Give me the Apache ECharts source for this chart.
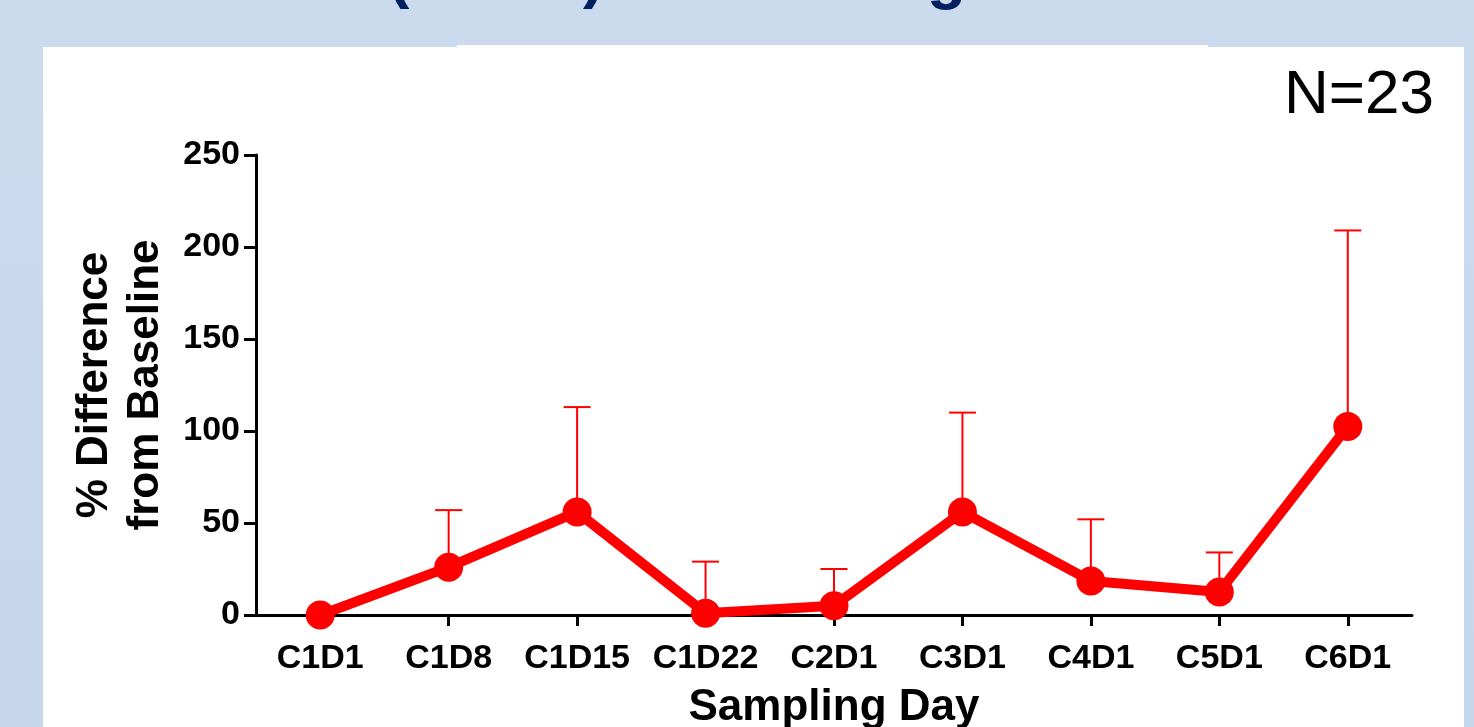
<!DOCTYPE html>
<html>
<head>
<meta charset="utf-8">
<script src="https://cdn.jsdelivr.net/npm/echarts@6/dist/echarts.min.js"></script>
<style>
html,body{margin:0;padding:0;width:1474px;height:727px;overflow:hidden;}
#bg{position:absolute;left:0;top:0;width:1474px;height:727px;background:linear-gradient(180deg,#cbdaed 0%,#c6d6eb 100%);}
#panel{position:absolute;left:43px;top:47px;width:1421px;height:690px;background:#ffffff;}
#panel2{position:absolute;left:457px;top:45px;width:751px;height:10px;background:#ffffff;}
#chart{position:absolute;left:0;top:0;width:1474px;height:727px;}
</style>
</head>
<body>
<div id="bg"></div>
<div id="panel"></div>
<div id="panel2"></div>
<div id="chart"></div>
<script>
const categories = ['C1D1','C1D8','C1D15','C1D22','C2D1','C3D1','C4D1','C5D1','C6D1'];
const meanValues = [0, 26, 56, 1, 5, 56, 18.5, 12.5, 102.5];
const upperValues = [0, 57, 113, 29, 25, 110, 52, 34, 209];
const yTicks = [0, 50, 100, 150, 200, 250];

const chart = echarts.init(document.getElementById('chart'), null, {renderer:'canvas'});
const FONT = '"Liberation Sans", Arial, sans-serif';
const RED = '#ff0000';

const errData = categories.map((c, i) => [i, meanValues[i], upperValues[i]]);

chart.setOption({
  backgroundColor: 'transparent',
  animation: false,
  grid: {left: 256, right: 62, top: 155, bottom: 112, containLabel: false, outerBoundsMode: 'none'},
  graphic: [
    {type:'text', left: 1284, top: 65, style:{text:'N=23', font:'normal 62px ' + FONT, fill:'#000'}},
    {type:'text', left: 388, top: -54, style:{text:'(', font:'bold 64px ' + FONT, fill:'#002060'}},
    {type:'text', left: 583, top: -54, style:{text:')', font:'bold 64px ' + FONT, fill:'#002060'}},
    {type:'text', left: 927, top: -53, style:{text:'g', font:'bold 64px ' + FONT, fill:'#002060'}}
  ],
  xAxis: {
    type: 'category',
    data: categories,
    boundaryGap: true,
    name: 'Sampling Day',
    nameLocation: 'middle',
    nameGap: 71,
    nameTextStyle: {fontFamily: FONT, fontWeight:'bold', fontSize: 44, color:'#000'},
    axisLine: {show:true, onZero:false, lineStyle:{color:'#000', width:3}},
    axisTick: {show:true, alignWithLabel:true, length:11, lineStyle:{color:'#000', width:3}},
    axisLabel: {fontFamily: FONT, fontWeight:'bold', fontSize: 34, color:'#000', margin: 27, interval:0},
    splitLine: {show:false}
  },
  yAxis: {
    type: 'value',
    min: yTicks[0],
    max: yTicks[yTicks.length-1],
    interval: 50,
    name: '% Difference\nfrom Baseline',
    nameLocation: 'middle',
    nameGap: 85,
    nameRotate: 90,
    nameTextStyle: {fontFamily: FONT, fontWeight:'bold', fontSize: 44, color:'#000', lineHeight: 51},
    axisLine: {show:true, lineStyle:{color:'#000', width:3}},
    axisTick: {show:true, length:12, lineStyle:{color:'#000', width:3}},
    axisLabel: {fontFamily: FONT, fontWeight:'bold', fontSize: 34, color:'#000', margin: 16},
    splitLine: {show:false}
  },
  series: [
    {
      type: 'custom',
      z: 2,
      data: errData,
      renderItem: function(params, api) {
        const i = api.value(0);
        const v = api.value(1);
        const u = api.value(2);
        if (u <= v) return null;
        const p0 = api.coord([i, v]);
        const p1 = api.coord([i, u]);
        const hw = 13.5;
        const st = {stroke: RED, lineWidth: 2, fill: null};
        return {
          type: 'group',
          children: [
            {type:'line', shape:{x1:p0[0], y1:p0[1], x2:p1[0], y2:p1[1]}, style: st},
            {type:'line', shape:{x1:p1[0]-hw, y1:p1[1], x2:p1[0]+hw, y2:p1[1]}, style: st}
          ]
        };
      }
    },
    {
      type: 'line',
      z: 3,
      data: meanValues,
      symbol: 'circle',
      symbolSize: 29,
      lineStyle: {color: RED, width: 10},
      itemStyle: {color: RED},
      emphasis: {disabled: true}
    }
  ]
});
</script>
</body>
</html>
